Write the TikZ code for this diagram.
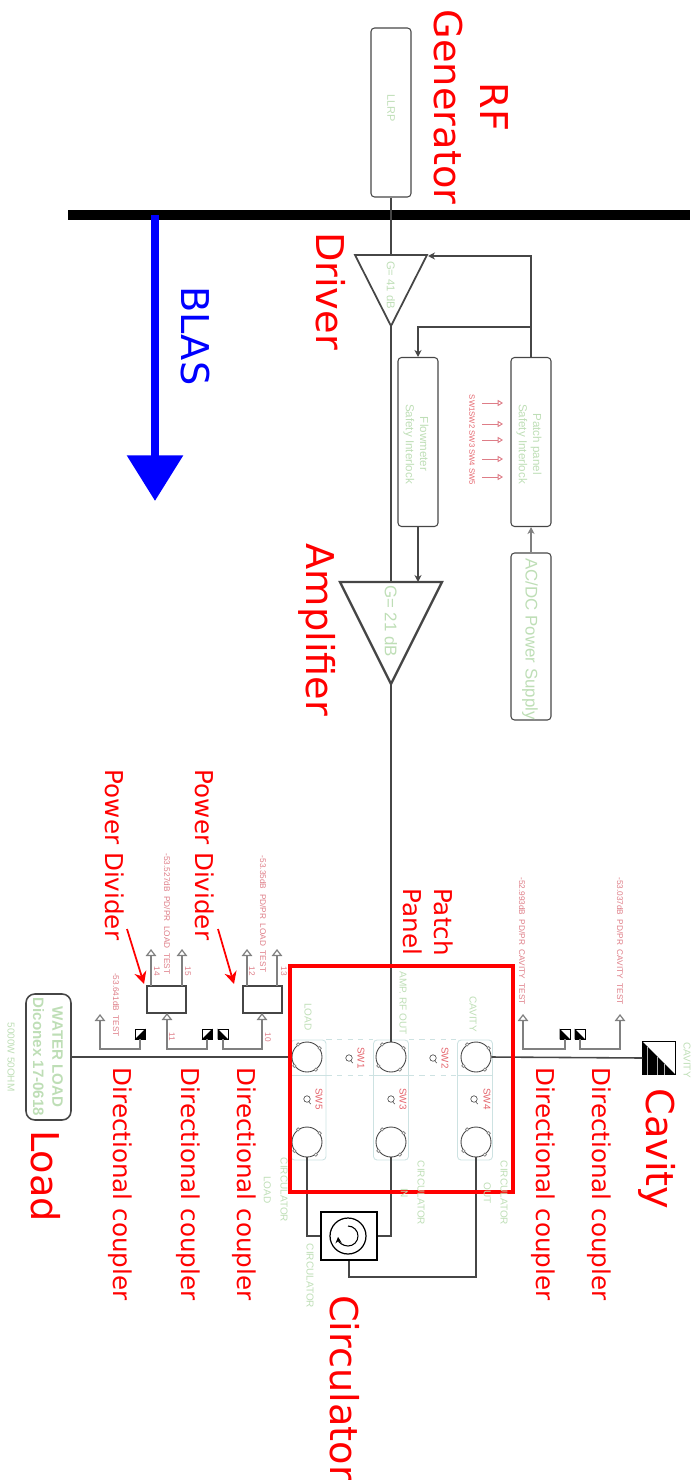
\documentclass[tikz,border=0pt]{standalone}
\usepackage{fontspec}
\setmainfont{DejaVu Sans}
\newfontfamily\drawfont{Liberation Sans}
\usetikzlibrary{arrows.meta}
\definecolor{wirecol}{RGB}{70, 70, 70}
\definecolor{inkgreen}{RGB}{190, 222, 182}
\definecolor{inkpink}{RGB}{222, 125, 135}
\definecolor{panelcol}{RGB}{205, 226, 226}

\begin{document}
\begin{tikzpicture}[
        x=0.02cm, y=-0.02cm,
        wire/.style={draw=wirecol, line width=0.7pt},
        sigarrow/.style={wire, -{Stealth[length=4pt, width=4pt]}},
        testarrow/.style={wire, gray, -{Triangle[open, length=4pt, width=6pt]}},
        swarrow/.style={draw=inkpink, line width=0.5pt, -{Triangle[open, length=3pt, width=3.5pt]}},
        unit/.style={draw=wirecol, rounded corners=2pt, line width=0.6pt, minimum width=0.8cm, minimum height=3.38cm, inner sep=0pt},
        splitter/.style={draw=wirecol, line width=0.7pt, minimum width=0.78cm, minimum height=0.54cm, inner sep=0pt},
        coupler/.style={draw=black, line width=0.4pt, minimum size=0.2cm, inner sep=0pt},
        port/.style={circle, draw=wirecol, line width=0.5pt, minimum size=0.6cm, inner sep=0pt},
        panel/.style={draw=panelcol, rounded corners=2pt, line width=0.5pt, minimum width=0.7cm, minimum height=2.4cm, inner sep=0pt},
        greentxt/.style={rotate=-90, inkgreen, inner sep=0pt, align=center, font=\drawfont\fontsize{5.7}{9.5}\selectfont},
        pinktxt/.style={rotate=-90, inkpink, inner sep=0pt, font=\drawfont\fontsize{4.7}{5.5}\selectfont},
        swtxt/.style={rotate=-90, inkpink!80!red, inner sep=0pt, font=\drawfont\fontsize{5.6}{6}\selectfont},
        bigtxt/.style={rotate=-90, red, inner sep=0pt, align=center, font=\fontsize{21.8}{26}\selectfont},
        smalltxt/.style={rotate=-90, red, inner sep=0pt, align=center, font=\fontsize{14}{17.5}\selectfont},
    ]
        \useasboundingbox (0, 0) rectangle (690, 1480);

        % Bus and BLAS arrow
        \coordinate (bus-l) at (68, 215);
        \coordinate (bus-r) at (690, 215);
        \coordinate (blas-top) at (155, 215);
        \coordinate (blas-tip) at (155, 501);
        \draw[line width=5.2pt] (bus-l) -- (bus-r);
        \draw[blue, line width=4.6pt, -{Triangle[length=26pt, width=31pt]}] (blas-top) -- (blas-tip);

        % Rack units
        \node[unit] (llrp) at (391, 112.5) {};
        \node[unit] (flow) at (418, 442) {};
        \node[unit] (patch) at (531, 442) {};
        \node[unit, minimum height=3.34cm] (acdc) at (531, 636.5) {};

        % Triangles (driver and amplifier)
        \coordinate (drv-in) at (391, 255);
        \coordinate (drv-out) at (391, 326);
        \coordinate (drv-sw) at (428, 256);
        \coordinate (amp-in) at (391, 582);
        \coordinate (amp-flow) at (418, 582);
        \coordinate (amp-out) at (391, 684);
        \draw[wire, line width=1pt] (355, 255) -- (427, 255) -- (drv-out) -- cycle;
        \draw[wire, line width=1.3pt] (340, 582) -- (442, 582) -- (amp-out) -- cycle;

        % Interlock wiring
        \coordinate (branch) at (531, 327);
        \draw[wire] (llrp) -- (drv-in);
        \draw[wire] (drv-out) -- (amp-in);
        \draw[sigarrow] (patch.north) |- (drv-sw);
        \draw[sigarrow] (branch) -| (flow.north);
        \draw[sigarrow] (flow.south) -- (amp-flow);
        \draw[sigarrow, gray] (acdc.north) -- (patch.south);

        % Switch signals into the patch panel interlock
        \node[swtxt, font=\drawfont\fontsize{4.4}{5.5}\selectfont] (swsig) at (472, 440) {SW1SW2 SW3 SW4 SW5};
        \foreach \y [count=\i] in {403, 424, 440, 459, 477} {
            \coordinate (sig-a\i) at (482, \y);
            \coordinate (sig-b\i) at (503, \y);
            \draw[swarrow] (sig-a\i) -- (sig-b\i);
        }

        % Patch panel: switch columns, ports
        \foreach \n/\x in {l/308.5, m/391, r/475} {
            \node[panel] (col-\n) at (\x, 1100) {};
            \draw[panelcol, line width=0.5pt] (col-\n.west |- 0, 1075) -- (col-\n.east |- 0, 1075);
        }
        \draw[panelcol, dashed, line width=0.5pt] (col-l.north east) -- (col-m.north west);
        \draw[panelcol, dashed, line width=0.5pt] (col-m.north east) -- (col-r.north west);
        \draw[panelcol, dashed, line width=0.5pt] (col-l.east |- 0, 1075) -- (col-m.west |- 0, 1075);
        \draw[panelcol, dashed, line width=0.5pt] (col-m.east |- 0, 1075) -- (col-r.west |- 0, 1075);
        \foreach \p/\x/\y in {pl/307/1057, pm/391/1057, pr/476/1057, ql/307/1142, qm/391/1142, qr/476/1142} {
            \node[port] (\p) at (\x, \y) {};
            \foreach \a in {35, 125, 215, 305}
                \draw[gray, line width=0.4pt, fill=white] (\p.\a) circle[radius=1.7];
        }
        \foreach \n/\x/\y/\t in {a/349/1058/SW1, b/433/1058/SW2, c/307/1099/SW5, d/391/1099/SW3, e/474/1099/SW4} {
            \node[circle, draw=wirecol, line width=0.35pt, minimum size=0.13cm, inner sep=0pt] (sw-\n) at (\x, \y) {};
            \draw[wirecol, line width=0.35pt] (sw-\n.-60) -- ++(2, 2);
        }
        \node[swtxt] (sw1) at (361, 1058) {SW1};
        \node[swtxt] (sw2) at (445, 1058) {SW2};
        \node[swtxt] (sw5) at (319, 1099) {SW5};
        \node[swtxt] (sw3) at (403, 1099) {SW3};
        \node[swtxt] (sw4) at (487, 1099) {SW4};
        \draw[wire] (amp-out) -- (pm.north);

        % Circulator
        \node[draw=black, line width=0.6pt, minimum width=1.12cm, minimum height=0.96cm, inner sep=0pt] (circ) at (349, 1236) {};
        \node[circle, draw=black, line width=0.7pt, minimum size=0.72cm, inner sep=0pt] (circ-ring) at (348, 1236) {};
        \draw[line width=0.6pt, -{Stealth[length=3.5pt, width=3.5pt]}] (circ-ring.center) ++(0, -10) arc[start angle=-90, end angle=175, radius=10];
        \coordinate (circ-out) at (349, 1277);
        \draw[wire] (ql.south) |- (circ.west);
        \draw[wire] (qm.south) |- (circ.east);
        \draw[wire] (qr.south) |- (circ-out) -- (circ.south);

        % Load line
        \node[draw=wirecol, rounded corners=5pt, line width=0.9pt, minimum width=0.9cm, minimum height=2.52cm, inner sep=0pt] (wload) at (48.5, 1057) {};
        \draw[wire, line width=0.9pt] (wload.east) -- (pl.west);

        % Cavity line
        \node[coupler, minimum size=0.65cm] (cav) at (659, 1058) {};
        \fill (cav.north west) -- (cav.south east) -- (cav.south west) -- cycle;
        \foreach \x in {-12, -2, 5}
            \draw[white!70!black, line width=0.3pt] ([xshift=\x*0.02cm]cav.south) -- ++(0, \x-16);
        \draw[wire, line width=0.9pt] (pr.east) -- (cav.west);

        % Directional couplers
        \foreach \n/\x in {dca/140, dcb/207} {
            \node[coupler] (\n) at (\x, 1034) {};
            \fill (\n.north east) -- (\n.south east) -- (\n.south west) -- cycle;
        }
        \foreach \n/\x in {dcc/223, dcd/565, dce/580} {
            \node[coupler] (\n) at (\x, 1034) {};
            \fill (\n.north west) -- (\n.south east) -- (\n.south west) -- cycle;
        }

        % Power dividers
        \node[splitter] (pda) at (166.5, 999.5) {};
        \node[splitter] (pdb) at (262.5, 999.5) {};

        % Coupled ports
        \coordinate (tst-a) at (100, 1014);
        \coordinate (tst-d) at (523, 1014);
        \coordinate (tst-e) at (620, 1014);
        \coordinate (pda-in) at (167, 1013);
        \coordinate (pdb-in) at (262, 1013);
        \draw[testarrow] (dca.south) |- (100, 1049) -- (tst-a);
        \draw[testarrow] (dcb.south) |- (167, 1049) -- (pda-in);
        \draw[testarrow] (dcc.south) |- (262, 1049) -- (pdb-in);
        \draw[testarrow] (dcd.south) |- (523, 1049) -- (tst-d);
        \draw[testarrow] (dce.south) |- (620, 1049) -- (tst-e);

        % Divider outputs
        \foreach \n/\x in {a/151, b/182, c/247, d/277} {
            \coordinate (out-\n) at (\x, 949);
            \coordinate (src-\n) at (\x, 986);
            \draw[testarrow] (src-\n) -- (out-\n);
        }

        % Red patch panel frame
        \node[draw=red, line width=2.3pt, minimum width=4.46cm, minimum height=4.52cm, inner sep=0pt] (frame) at (401.5, 1079) {};

        % Red pointers
        \coordinate (ptr-a) at (127, 929);
        \coordinate (ptr-at) at (144, 984);
        \coordinate (ptr-b) at (218, 929);
        \coordinate (ptr-bt) at (234, 984);
        \draw[red, line width=1pt, -{Stealth[length=7pt, width=7pt]}] (ptr-a) -- (ptr-at);
        \draw[red, line width=1pt, -{Stealth[length=7pt, width=7pt]}] (ptr-b) -- (ptr-bt);

        % Drawing labels
        \node[greentxt, font=\drawfont\fontsize{6.2}{8}\selectfont] (t-llrp) at (391, 108) {LLRP};
        \node[greentxt, font=\drawfont\fontsize{6.4}{8}\selectfont] (t-g41) at (391, 285) {G= 41 dB};
        \node[greentxt, font=\drawfont\fontsize{9.6}{11}\selectfont] (t-g21) at (391, 621) {G= 21 dB};
        \node[greentxt, font=\drawfont\fontsize{9.6}{11}\selectfont] (t-acdc) at (530, 639) {AC/DC Power Supply};
        \node[greentxt, font=\drawfont\fontsize{6.6}{8}\selectfont] (t-flow) at (416, 444) {Flowmeter\\Safety Interlock};
        \node[greentxt, font=\drawfont\fontsize{6.6}{8}\selectfont] (t-patch) at (529, 444) {Patch panel\\Safety Interlock};
        \node[greentxt, font=\drawfont\bfseries\fontsize{8.6}{11}\selectfont] (t-water) at (48, 1057) {WATER LOAD\\Diconex 17-0618};
        \node[greentxt] (t-ohm) at (11, 1057) {5000W 50OHM};
        \node[greentxt] (t-load) at (308, 1017) {LOAD};
        \node[greentxt] (t-rf) at (403, 1003) {AMP. RF OUT};
        \node[greentxt] (t-cav) at (473, 1014) {CAVITY};
        \node[greentxt, anchor=north] (t-cl) at (288, 1190) {CIRCULATOR\\LOAD};
        \node[greentxt, anchor=north] (t-ci) at (425, 1193) {CIRCULATOR\\IN};
        \node[greentxt, anchor=north] (t-co) at (508, 1193) {CIRCULATOR\\OUT};
        \node[greentxt] (t-cb) at (310, 1276) {CIRCULATOR};
        \node[greentxt, anchor=west] (t-cv) at (687, 1042) {CAVITY};

        % Test point labels
        \node[pinktxt] (t-t1) at (116, 1005) {-53.641dB~~TEST};
        \node[pinktxt] (t-t2) at (167, 914) {-53.527dB~~PD/PR~~LOAD~~TEST};
        \node[pinktxt] (t-t3) at (263, 914) {-53.35dB~~PD/PR~~LOAD~~TEST};
        \node[pinktxt] (t-t4) at (522, 941) {-52.993dB~~PD/PR~~CAVITY~~TEST};
        \node[pinktxt] (t-t5) at (620, 941) {-53.037dB~~PD/PR~~CAVITY~~TEST};
        \node[pinktxt] (t-p14) at (157, 971) {14};
        \node[pinktxt] (t-p15) at (188, 971) {15};
        \node[pinktxt] (t-p12) at (252, 971) {12};
        \node[pinktxt] (t-p13) at (284, 971) {13};
        \node[pinktxt] (t-p11) at (172, 1037) {11};
        \node[pinktxt] (t-p10) at (268, 1037) {10};

        % Big red labels
        \node[bigtxt] (l-rf) at (471, 107) {RF\\Generator};
        \node[bigtxt] (l-drv) at (331, 291) {Driver};
        \node[bigtxt] (l-amp) at (317, 630) {Amplifier};
        \node[bigtxt, blue] (l-blas) at (195, 336) {BLAS};
        \node[bigtxt] (l-cav) at (657, 1149) {Cavity};
        \node[bigtxt] (l-load) at (46, 1176) {Load};
        \node[bigtxt] (l-circ) at (345, 1388) {Circulator};

        % Small red labels
        \node[smalltxt] (l-pp) at (428, 922) {Patch\\Panel};
        \node[smalltxt] (l-pda) at (115, 855) {Power Divider};
        \node[smalltxt] (l-pdb) at (205, 855) {Power Divider};
        \foreach \n/\x in {a/120, b/188, c/244, d/543, e/599}
            \node[smalltxt] (l-dc\n) at (\x, 1184) {Directional coupler};
    \end{tikzpicture}
\end{document}
